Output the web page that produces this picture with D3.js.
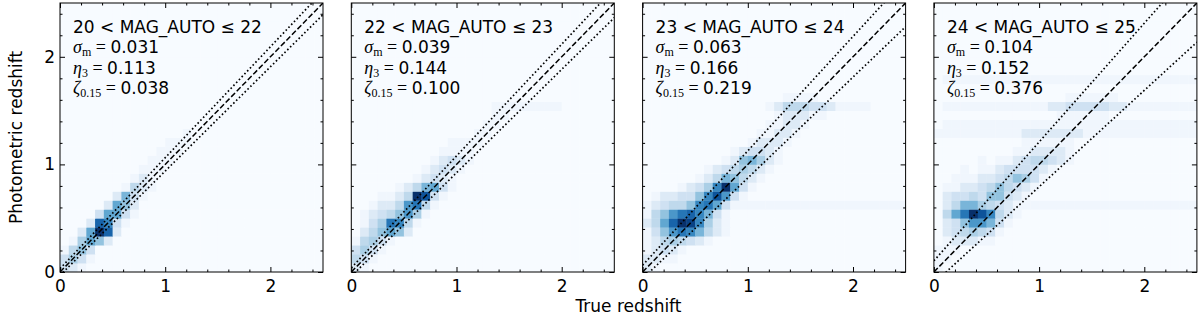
<!DOCTYPE html>
<html>
<head>
<meta charset="utf-8">
<script src="https://cdn.jsdelivr.net/npm/d3@7"></script>
<style>
  body { margin: 0; background: #fff; }
  svg text { font-family: "DejaVu Sans", sans-serif; white-space: pre; }
</style>
</head>
<body>
<div id="chart"></div>
<script>
// 2D histogram levels (hex 0-f), one string per photo-z bin from 0 upward,
// one character per true-z bin; missing cells are empty (0)
const rows1 = [
  "321", "3531", "1463", "015862", "0028fc2", "0002ca31", "000038831",
  "000002862", "0000002731", "00000001421", "00000000121", "000000000111",
  "0000000000111", "00000000000111", "000000000000111", "000000000000001"
];
const rows2 = [
  "21", "431", "3531", "14531", "0246862", "0135ba41", "012346951",
  "0012249b41", "0001124fd31", "000001247831", "000000012321",
  "0000000012321", "00000000012321", "00000000001111", "000000000001111",
  "0000000000000011", "00000000000000011", "000000000000000011",
  "000000000000000011111111"
];
const rows3 = [
  "21", "2211", "12321", "12454321", "1369ba7421", "248cfea521", "1469bca731",
  "123446ab8311111111111111111111", "0122336ad931", "00001235af831",
  "00000012476421", "000000012345421", "0000000001267521", "0000000000123321",
  "00000000000012221", "000000000000011221", "0000000000000011221",
  "000000000000000122211", "00000000000000124443321111", "00000000000000001111"
];
const rows4 = [
  "1", "11", "111", "0122211", "02345431", "023699731", "048bfda421",
  "024775432111111111111111111111", "02334366321", "011223464321",
  "0011122346531", "00010112333321", "0000010112344321", "0000000001122221",
  "0000000000111111", "111111111122222221111111111111",
  "011111111111111111111111111111", "000000000000001111110",
  "011111111111122333332211111111", "000000000000000111111", "0",
  "011111111111111111111111111111"
];
const panelRows = [rows1, rows2, rows3, rows4];

const magLabels = ["20 < MAG_AUTO ≤ 22", "22 < MAG_AUTO ≤ 23",
                   "23 < MAG_AUTO ≤ 24", "24 < MAG_AUTO ≤ 25"];
const sigmaM = [0.031, 0.039, 0.063, 0.104];
const eta3 = ["0.113", "0.144", "0.166", "0.152"];
const zeta015 = ["0.038", "0.100", "0.219", "0.376"];

const majorTicks = [0, 1, 2];
const minorTicks = [0.2, 0.4, 0.6, 0.8, 1.2, 1.4, 1.6, 1.8, 2.2, 2.4];
const zRange = [0, 2.5];
const nBins = 30;

const W = 263, H = 269, left0 = 60, top0 = 3, pitch = 291.3;

const svg = d3.select("#chart").append("svg")
    .attr("width", 1200)
    .attr("height", 320);

const xs = d3.scaleLinear().domain(zRange).range([0, W]);
const ys = d3.scaleLinear().domain(zRange).range([H, 0]);
const edges = d3.range(nBins + 1).map(k => zRange[1] * k / nBins);
const color = d3.scaleSequential(d3.interpolateBlues).domain([0, 15]);
// faintest level kept very light, as in the reference
const level = v => v <= 1 ? v * 0.55 : v;

const line = d3.line().x(d => xs(d[0])).y(d => ys(d[1]));

panelRows.forEach((rows, p) => {
    const g = svg.append("g")
        .attr("transform", "translate(" + (left0 + p * pitch) + "," + top0 + ")");

    g.append("clipPath").attr("id", "clip" + p)
      .append("rect").attr("width", W).attr("height", H);

    // histogram cells
    const cells = [];
    for (let j = 0; j < nBins; j++) {
        const r = (rows[j] || "").padEnd(nBins, "0");
        for (let i = 0; i < nBins; i++) {
            cells.push({i: i, j: j, v: parseInt(r[i], 16)});
        }
    }
    const cg = g.append("g").attr("clip-path", "url(#clip" + p + ")");
    cg.selectAll("rect.cell")
        .data(cells)
        .enter().append("rect")
        .attr("class", "cell")
        .attr("x", d => xs(edges[d.i]))
        .attr("y", d => ys(edges[d.j + 1]))
        .attr("width", d => xs(edges[d.i + 1]) - xs(edges[d.i]) + 0.4)
        .attr("height", d => ys(edges[d.j]) - ys(edges[d.j + 1]) + 0.4)
        .attr("fill", d => color(level(d.v)));

    // one-to-one and +/- sigma(1+z) lines
    const s = sigmaM[p];
    cg.append("path")
        .attr("d", line(zRange.map(z => [z, z])))
        .attr("fill", "none").attr("stroke", "#000").attr("stroke-width", 1.5)
        .attr("stroke-dasharray", "5.5,2.4");
    [1, -1].forEach(sign => {
        cg.append("path")
            .attr("d", line(zRange.map(z => [z, z + sign * s * (1 + z)])))
            .attr("fill", "none").attr("stroke", "#000").attr("stroke-width", 1.7)
            .attr("stroke-dasharray", "1.6,2.4");
    });

    // frame
    g.append("rect")
        .attr("width", W).attr("height", H)
        .attr("fill", "none").attr("stroke", "#000").attr("stroke-width", 1);

    // ticks pointing inward on all sides
    const axes = [
        {ax: d3.axisBottom(xs), t: "translate(0," + H + ")", labels: true, pad: 8},
        {ax: d3.axisTop(xs), t: null, labels: false, pad: 3},
        {ax: d3.axisLeft(ys), t: null, labels: p === 0, pad: 5},
        {ax: d3.axisRight(ys), t: "translate(" + W + ",0)", labels: false, pad: 3}
    ];
    axes.forEach(a => {
        const major = g.append("g")
            .attr("transform", a.t)
            .call(a.ax.tickValues(majorTicks).tickSizeInner(-5).tickSizeOuter(0)
                .tickPadding(a.pad).tickFormat(a.labels ? d3.format("d") : ""));
        major.select(".domain").remove();
        major.attr("font-size", 17).attr("font-family", "DejaVu Sans");
        const minor = g.append("g")
            .attr("transform", a.t)
            .call(a.ax.tickValues(minorTicks).tickSizeInner(-2.5).tickSizeOuter(0)
                .tickFormat(""));
        minor.select(".domain").remove();
    });

    // annotation
    const tx = 13, by = 29.5, gap = 20.5;
    g.append("text").attr("x", tx).attr("y", by).attr("font-size", 17)
        .text(magLabels[p]);

    const stats = [["σ", "m", sigmaM[p].toFixed(3)], ["η", "3", eta3[p]], ["ζ", "0.15", zeta015[p]]];
    stats.forEach((st, k) => {
        const t = g.append("text").attr("x", tx).attr("y", by + gap * (k + 1));
        t.append("tspan").attr("font-family", "Liberation Serif").attr("font-style", "italic")
            .attr("font-size", 18).text(st[0]);
        t.append("tspan").attr("font-family", "Liberation Serif").attr("font-size", 12)
            .attr("dy", 3).text(st[1]);
        t.append("tspan").attr("font-family", "Liberation Serif").attr("font-size", 18)
            .attr("dy", -3).text(" = ");
        t.append("tspan").attr("font-size", 17).text(st[2]);
    });
});

// axis titles
svg.append("text")
    .attr("transform", "translate(21.5," + (top0 + H / 2) + ") rotate(-90)")
    .attr("text-anchor", "middle")
    .attr("font-size", 17)
    .text("Photometric redshift");

svg.append("text")
    .attr("x", left0 + (3 * pitch + W) / 2)
    .attr("y", 311.5)
    .attr("text-anchor", "middle")
    .attr("font-size", 17)
    .text("True redshift");
</script>
</body>
</html>
